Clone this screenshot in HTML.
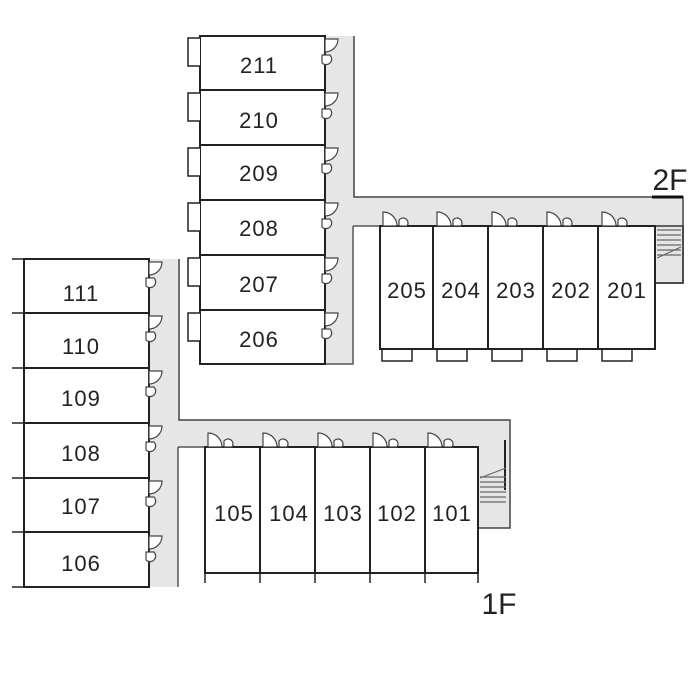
<!DOCTYPE html>
<html><head><meta charset="utf-8"><style>
html,body{margin:0;padding:0;background:#fff;width:700px;height:673px;overflow:hidden}
svg text{font-family:"Liberation Sans",sans-serif;font-size:22px;letter-spacing:1px;fill:#222;text-anchor:middle}
</style></head><body>
<svg width="700" height="673" viewBox="0 0 700 673" xmlns="http://www.w3.org/2000/svg">
<!-- 2F corridor -->
<path d="M325 36 H354 V197 H683 V283 H655 V226 H353 V364 H325 Z" fill="#e6e6e6"/>
<path d="M354 36 V197 H683 V283 H655" fill="none" stroke="#444" stroke-width="1.5"/>
<path d="M353 226 H380 M353 226 V364 H325" fill="none" stroke="#555" stroke-width="1.5"/>
<path d="M652 197 H683" stroke="#111" stroke-width="3"/>
<g stroke="#666" stroke-width="1.2">
<line x1="657" y1="230" x2="681" y2="230"/><line x1="657" y1="235" x2="681" y2="235"/><line x1="657" y1="240" x2="681" y2="240"/><line x1="657" y1="245" x2="681" y2="245"/><line x1="657" y1="250" x2="681" y2="250"/><line x1="657" y1="255" x2="681" y2="255"/><line x1="657" y1="258" x2="681" y2="247"/>
</g>
<rect x="655" y="226" width="28" height="57" fill="none" stroke="#333" stroke-width="1.5"/>
<g fill="#fff" stroke="#222" stroke-width="2">
<rect x="200" y="36" width="125" height="54"/><rect x="200" y="90" width="125" height="55"/><rect x="200" y="145" width="125" height="55"/><rect x="200" y="200" width="125" height="55"/><rect x="200" y="255" width="125" height="55"/><rect x="200" y="310" width="125" height="54"/>
</g>
<g fill="#fff" stroke="#222" stroke-width="1.5">
<path d="M200 38 H188 V66 H200"/><path d="M200 93 H188 V121 H200"/><path d="M200 148 H188 V176 H200"/><path d="M200 203 H188 V231 H200"/><path d="M200 258 H188 V286 H200"/><path d="M200 313 H188 V341 H200"/>
</g>
<g fill="#fff" stroke="#444" stroke-width="1.2">
<path d="M325 39 H338 A13 13 0 0 1 325 52 Z M322 55 h8 a5 5 0 0 1 -8 8 Z"/>
<path d="M325 93 H338 A13 13 0 0 1 325 106 Z M322 109 h8 a5 5 0 0 1 -8 8 Z"/>
<path d="M325 148 H338 A13 13 0 0 1 325 161 Z M322 164 h8 a5 5 0 0 1 -8 8 Z"/>
<path d="M325 203 H338 A13 13 0 0 1 325 216 Z M322 219 h8 a5 5 0 0 1 -8 8 Z"/>
<path d="M325 258 H338 A13 13 0 0 1 325 271 Z M322 274 h8 a5 5 0 0 1 -8 8 Z"/>
<path d="M325 313 H338 A13 13 0 0 1 325 326 Z M322 329 h8 a5 5 0 0 1 -8 8 Z"/>
</g>
<text x="259" y="73">211</text><text x="259" y="128">210</text><text x="259" y="181">209</text><text x="259" y="236">208</text><text x="259" y="292">207</text><text x="259" y="347">206</text>
<g fill="#fff" stroke="#222" stroke-width="2">
<rect x="380" y="226" width="53" height="123"/><rect x="433" y="226" width="55" height="123"/><rect x="488" y="226" width="55" height="123"/><rect x="543" y="226" width="55" height="123"/><rect x="598" y="226" width="57" height="123"/>
</g>
<g fill="none" stroke="#222" stroke-width="1.5">
<path d="M382 349 V361 H412 V349"/><path d="M437 349 V361 H467 V349"/><path d="M492 349 V361 H522 V349"/><path d="M547 349 V361 H577 V349"/><path d="M602 349 V361 H632 V349"/>
</g>
<g fill="#fff" stroke="#444" stroke-width="1.2">
<path d="M383 226 V212 A14 14 0 0 1 397 226 Z M399 226 v-6 a5 5 0 0 1 8 6 Z"/>
<path d="M437 226 V212 A14 14 0 0 1 451 226 Z M453 226 v-6 a5 5 0 0 1 8 6 Z"/>
<path d="M492 226 V212 A14 14 0 0 1 506 226 Z M508 226 v-6 a5 5 0 0 1 8 6 Z"/>
<path d="M547 226 V212 A14 14 0 0 1 561 226 Z M563 226 v-6 a5 5 0 0 1 8 6 Z"/>
<path d="M602 226 V212 A14 14 0 0 1 616 226 Z M618 226 v-6 a5 5 0 0 1 8 6 Z"/>
</g>
<g style="letter-spacing:0">
<text x="407" y="298">205</text><text x="461" y="298">204</text><text x="516" y="298">203</text><text x="571" y="298">202</text><text x="627" y="298">201</text>
</g>
<text x="670" y="190" style="font-size:30px;letter-spacing:0">2F</text>
<!-- 1F corridor -->
<path d="M149 259 H179 V420 H510 V528 H478 V447 H178 V587 H149 Z" fill="#e6e6e6"/>
<path d="M179 259 V420 H510 V528 H478" fill="none" stroke="#444" stroke-width="1.5"/>
<path d="M178 447 H205 M178 447 V587" fill="none" stroke="#555" stroke-width="1.5"/>
<path d="M505 440 V490" stroke="#222" stroke-width="2"/>
<g stroke="#666" stroke-width="1.2">
<line x1="480" y1="477" x2="506" y2="477"/><line x1="480" y1="482" x2="506" y2="482"/><line x1="480" y1="487" x2="506" y2="487"/><line x1="480" y1="492" x2="506" y2="492"/><line x1="480" y1="497" x2="506" y2="497"/><line x1="480" y1="502" x2="506" y2="502"/><line x1="480" y1="478" x2="506" y2="468"/>
</g>
<g fill="#fff" stroke="#222" stroke-width="2">
<rect x="24" y="259" width="125" height="54"/><rect x="24" y="313" width="125" height="55"/><rect x="24" y="368" width="125" height="55"/><rect x="24" y="423" width="125" height="55"/><rect x="24" y="478" width="125" height="54"/><rect x="24" y="532" width="125" height="55"/>
</g>
<g stroke="#222" stroke-width="1.5">
<line x1="12" y1="259" x2="24" y2="259"/><line x1="12" y1="313" x2="24" y2="313"/><line x1="12" y1="368" x2="24" y2="368"/><line x1="12" y1="423" x2="24" y2="423"/><line x1="12" y1="478" x2="24" y2="478"/><line x1="12" y1="532" x2="24" y2="532"/><line x1="12" y1="587" x2="24" y2="587"/>
</g>
<g fill="#fff" stroke="#444" stroke-width="1.2">
<path d="M149 262 H162 A13 13 0 0 1 149 275 Z M146 278 h8 a5 5 0 0 1 -8 8 Z"/>
<path d="M149 316 H162 A13 13 0 0 1 149 329 Z M146 332 h8 a5 5 0 0 1 -8 8 Z"/>
<path d="M149 371 H162 A13 13 0 0 1 149 384 Z M146 387 h8 a5 5 0 0 1 -8 8 Z"/>
<path d="M149 426 H162 A13 13 0 0 1 149 439 Z M146 442 h8 a5 5 0 0 1 -8 8 Z"/>
<path d="M149 481 H162 A13 13 0 0 1 149 494 Z M146 497 h8 a5 5 0 0 1 -8 8 Z"/>
<path d="M149 536 H162 A13 13 0 0 1 149 549 Z M146 552 h8 a5 5 0 0 1 -8 8 Z"/>
</g>
<text x="81" y="301">111</text><text x="81" y="354">110</text><text x="81" y="406">109</text><text x="81" y="461">108</text><text x="81" y="514">107</text><text x="81" y="571">106</text>
<g fill="#fff" stroke="#222" stroke-width="2">
<rect x="205" y="447" width="55" height="126"/><rect x="260" y="447" width="55" height="126"/><rect x="315" y="447" width="55" height="126"/><rect x="370" y="447" width="55" height="126"/><rect x="425" y="447" width="53" height="126"/>
</g>
<g stroke="#222" stroke-width="1.5">
<line x1="205" y1="573" x2="205" y2="583"/><line x1="260" y1="573" x2="260" y2="583"/><line x1="315" y1="573" x2="315" y2="583"/><line x1="370" y1="573" x2="370" y2="583"/><line x1="425" y1="573" x2="425" y2="583"/><line x1="478" y1="573" x2="478" y2="583"/>
</g>
<g fill="#fff" stroke="#444" stroke-width="1.2">
<path d="M208 447 V433 A14 14 0 0 1 222 447 Z M224 447 v-6 a5 5 0 0 1 8 6 Z"/>
<path d="M263 447 V433 A14 14 0 0 1 277 447 Z M279 447 v-6 a5 5 0 0 1 8 6 Z"/>
<path d="M318 447 V433 A14 14 0 0 1 332 447 Z M334 447 v-6 a5 5 0 0 1 8 6 Z"/>
<path d="M373 447 V433 A14 14 0 0 1 387 447 Z M389 447 v-6 a5 5 0 0 1 8 6 Z"/>
<path d="M428 447 V433 A14 14 0 0 1 442 447 Z M444 447 v-6 a5 5 0 0 1 8 6 Z"/>
</g>
<g style="letter-spacing:0">
<text x="234" y="521">105</text><text x="289" y="521">104</text><text x="343" y="521">103</text><text x="397" y="521">102</text><text x="452" y="521">101</text>
</g>
<text x="499" y="614" style="font-size:30px;letter-spacing:0">1F</text>
</svg>
</body></html>
